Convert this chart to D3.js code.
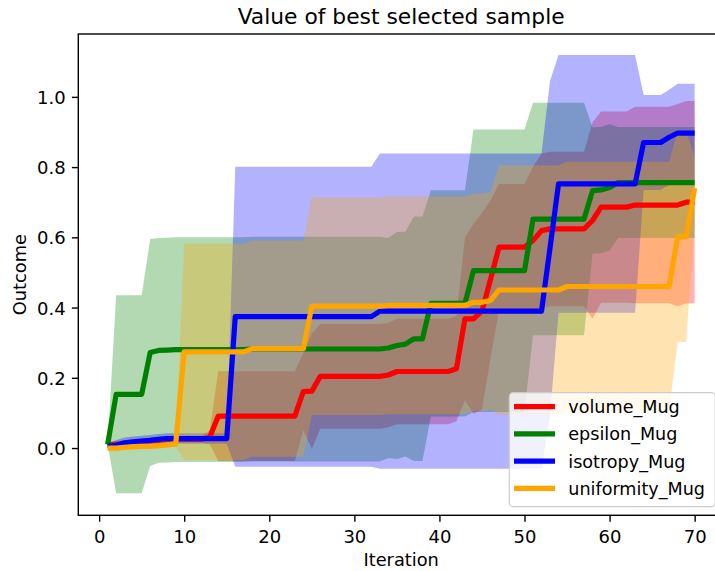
<!DOCTYPE html>
<html>
<head>
<meta charset="utf-8">
<script src="https://cdn.jsdelivr.net/npm/d3@7"></script>
<style>
  html, body { margin: 0; padding: 0; background: #fff; }
  svg { display: block; font-family: "DejaVu Sans", sans-serif; }
</style>
</head>
<body>
<svg id="chart" width="715" height="571"></svg>
<script>
// ---------- data (iterations 1..70) ----------
const iterations = d3.range(1, 71);

function rep(v, n) { return Array(n).fill(v); }

const volumeMean = [].concat(
  [0.010, 0.010, 0.012, 0.015, 0.018, 0.020, 0.022, 0.025, 0.025, 0.025, 0.025, 0.025, 0.031],
  rep(0.091, 10), [0.161, 0.162], rep(0.204, 8), [0.208], rep(0.218, 7), [0.226],
  [0.368, 0.368, 0.390, 0.480], rep(0.572, 4), [0.591, 0.619], rep(0.624, 5), [0.648],
  rep(0.686, 4), rep(0.692, 6), [0.700, 0.700]);
const volumeStd = [].concat(
  rep(0.010, 12), [0.020], rep(0.128, 10), [0.110, 0.164], rep(0.149, 9), rep(0.150, 8),
  [0.232, 0.270, 0.280, 0.225], rep(0.180, 4), [0.210], rep(0.220, 6), [0.280],
  rep(0.272, 4), rep(0.280, 5), rep(0.288, 3));

const epsilonMean = [].concat(
  [0.010], rep(0.153, 4), [0.272, 0.278, 0.279], rep(0.280, 9), rep(0.282, 16),
  [0.285, 0.292, 0.296, 0.311, 0.311], rep(0.412, 5), rep(0.505, 7), rep(0.652, 7),
  [0.733, 0.735, 0.742], rep(0.756, 10));
const epsilonStd = [].concat(
  [0.0], rep(0.282, 4), [0.323], rep(0.320, 27), [0.313, 0.323, 0.320, 0.348, 0.348],
  rep(0.322, 5), rep(0.402, 7), rep(0.331, 7), rep(0.180, 3), rep(0.158, 10));

const isotropyMean = [].concat(
  [0.005, 0.008, 0.015, 0.018, 0.020, 0.022, 0.025], rep(0.027, 8), rep(0.374, 17),
  rep(0.390, 20), [0.570], rep(0.752, 10), rep(0.870, 3), [0.885], rep(0.897, 3));
const isotropyStd = [].concat(
  [0.005], rep(0.015, 14), rep(0.427, 17), rep(0.449, 20), [0.476], rep(0.367, 10),
  rep(0.135, 4), rep(0.140, 3));

const uniformityMean = [].concat(
  [0.000, 0.000, 0.002, 0.004, 0.005, 0.005, 0.007, 0.009, 0.012], rep(0.274, 8),
  rep(0.283, 7), rep(0.404, 9), rep(0.406, 10), [0.415, 0.415, 0.420], rep(0.450, 8),
  rep(0.460, 13), [0.602, 0.602, 0.740]);
const uniformityStd = [].concat(
  rep(0.008, 9), rep(0.308, 15), rep(0.310, 22), rep(0.355, 21), [0.300, 0.300, 0.090]);

const seriesNames = ["volume_Mug", "epsilon_Mug", "isotropy_Mug", "uniformity_Mug"];
const seriesColors = ["red", "green", "blue", "orange"];
const seriesMeans = [volumeMean, epsilonMean, isotropyMean, uniformityMean];
const seriesStds = [volumeStd, epsilonStd, isotropyStd, uniformityStd];

const xTicks = [0, 10, 20, 30, 40, 50, 60, 70];
const yTicks = [0.0, 0.2, 0.4, 0.6, 0.8, 1.0];

const titleText = "Value of best selected sample";
const xLabel = "Iteration";
const yLabel = "Outcome";

// ---------- layout ----------
const svg = d3.select("#chart");
const plot = { left: 78.3, right: 724, top: 34, bottom: 515.3 };
const fsTick = 18;
const fsLabel = 17.8;
const fsLegend = 17.6;

const x = d3.scaleLinear().domain([-2.45, 73.45]).range([plot.left, plot.right]);
const y = d3.scaleLinear().domain([-0.1915, 1.179]).range([plot.bottom, plot.top]);

svg.append("defs").append("clipPath").attr("id", "clip")
  .append("rect").attr("x", plot.left).attr("y", plot.top)
  .attr("width", plot.right - plot.left).attr("height", plot.bottom - plot.top);

const series = seriesNames.map((name, k) => ({
  name, color: seriesColors[k],
  pts: iterations.map((it, j) => ({ it, m: seriesMeans[k][j], s: seriesStds[k][j] }))
}));

const g = svg.append("g").attr("clip-path", "url(#clip)");

const area = d3.area().x(d => x(d.it)).y0(d => y(d.m - d.s)).y1(d => y(d.m + d.s));
const line = d3.line().x(d => x(d.it)).y(d => y(d.m));

// bands first (collections drawn below lines)
series.forEach(s => {
  g.append("path").datum(s.pts).attr("d", area)
    .attr("fill", s.color).attr("fill-opacity", 0.3).attr("stroke", "none");
});
series.forEach(s => {
  g.append("path").datum(s.pts).attr("d", line)
    .attr("fill", "none").attr("stroke", s.color).attr("stroke-width", 5.2)
    .attr("stroke-linejoin", "round").attr("stroke-linecap", "butt");
});

// ---------- axes ----------
const xAxis = d3.axisBottom(x).tickValues(xTicks).tickFormat(d3.format("d"))
  .tickSize(6.4).tickPadding(6);
const yAxis = d3.axisLeft(y).tickValues(yTicks).tickFormat(d3.format(".1f"))
  .tickSize(6.4).tickPadding(6.2);

const gx = svg.append("g").attr("transform", `translate(0,${plot.bottom})`).call(xAxis);
const gy = svg.append("g").attr("transform", `translate(${plot.left},0)`).call(yAxis);
[gx, gy].forEach(a => {
  a.select(".domain").remove();
  a.selectAll(".tick line").attr("stroke", "#000").attr("stroke-width", 1.4);
  a.selectAll(".tick text").attr("fill", "#000")
    .style("font-family", "'DejaVu Sans', sans-serif").style("font-size", fsTick + "px");
});
gx.selectAll(".tick text").attr("dy", null).attr("y", 27.4);
gy.selectAll(".tick text").attr("dy", "0.36em");

// spines
svg.append("rect").attr("x", plot.left).attr("y", plot.top)
  .attr("width", plot.right - plot.left).attr("height", plot.bottom - plot.top)
  .attr("fill", "none").attr("stroke", "#000").attr("stroke-width", 1.4);

// labels
svg.append("text").attr("x", (plot.left + plot.right) / 2).attr("y", 23.5)
  .attr("text-anchor", "middle").style("font-size", "21.8px").text(titleText);
svg.append("text").attr("x", (plot.left + plot.right) / 2).attr("y", 566)
  .attr("text-anchor", "middle").style("font-size", fsLabel + "px").text(xLabel);
svg.append("text").attr("transform", `translate(25.5,${(plot.top + plot.bottom) / 2}) rotate(-90)`)
  .attr("text-anchor", "middle").style("font-size", fsLabel + "px").text(yLabel);

// ---------- legend ----------
const lg = svg.append("g");
lg.append("rect").attr("x", 509.3).attr("y", 392.7).attr("width", 205.9).attr("height", 114)
  .attr("rx", 4).attr("fill", "#fff").attr("fill-opacity", 0.8)
  .attr("stroke", "#cccccc").attr("stroke-width", 1.2);
series.forEach((s, k) => {
  const cy = 406.7 + k * 27.2;
  lg.append("line").attr("x1", 514).attr("x2", 555).attr("y1", cy).attr("y2", cy)
    .attr("stroke", s.color).attr("stroke-width", 5.2);
  lg.append("text").attr("x", 568.3).attr("y", cy + 6.5)
    .style("font-size", fsLegend + "px").text(s.name);
});
</script>
</body>
</html>
